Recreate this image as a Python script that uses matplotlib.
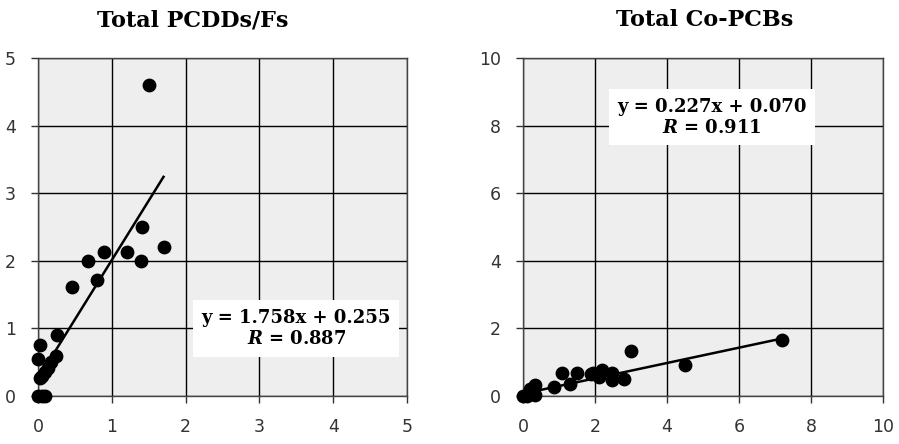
import numpy as np
import matplotlib.pyplot as plt

# Total PCDDs/Fs
pcdd_x = [1.50, 1.41, 1.70, 1.40, 1.20, 0.89, 0.68, 0.80, 0.46, 0.26,
          0.03, 0.00, 0.24, 0.18, 0.14, 0.09, 0.05, 0.02, 0.00, 0.05, 0.10]
pcdd_y = [4.60, 2.50, 2.21, 2.00, 2.13, 2.13, 2.00, 1.72, 1.61, 0.91,
          0.76, 0.55, 0.60, 0.51, 0.42, 0.35, 0.30, 0.27, 0.00, 0.00, 0.00]
pcdd_fit = (1.758, 0.255)
pcdd_label = "y = 1.758x + 0.255\n$\\bfit{R}$ = 0.887"

# Total Co-PCBs
pcb_x = [3.00, 4.50, 7.20, 2.81, 2.48, 2.48, 2.18, 2.11, 1.93, 1.88,
         1.51, 1.30, 1.09, 0.87, 0.34, 0.20, 0.34, 0.10, 0.00]
pcb_y = [1.34, 0.92, 1.65, 0.49, 0.47, 0.69, 0.77, 0.55, 0.69, 0.66,
         0.67, 0.37, 0.67, 0.28, 0.33, 0.20, 0.03, 0.00, 0.00]
pcb_fit = (0.227, 0.070)
pcb_label = "y = 0.227x + 0.070\n$\\bfit{R}$ = 0.911"

plt.rcParams['mathtext.fontset'] = 'custom'
plt.rcParams['mathtext.bfit'] = 'DejaVu Serif:bold:italic'
plt.rcParams['mathtext.rm'] = 'DejaVu Serif:bold'

fig = plt.figure(figsize=(8.99, 4.44), dpi=100)
ax1 = fig.add_axes([0.0423, 0.108, 0.4105, 0.761])
ax2 = fig.add_axes([0.5818, 0.108, 0.4004, 0.761])

def draw(ax, x, y, fit, label, lim, step, title, title_x, box_xy):
    ax.set_facecolor('#eeeeee')
    ax.set_axisbelow(True)
    ax.grid(True, color='black', linewidth=1.0)
    ax.scatter(x, y, s=80, color='black', zorder=3, clip_on=False)
    xs = np.array([min(x), max(x)])
    ax.plot(xs, fit[0] * xs + fit[1], color='black', linewidth=1.8, zorder=4)
    ax.set_xlim(0, lim)
    ax.set_ylim(0, lim)
    ticks = np.arange(0, lim + step / 2, step)
    ax.set_xticks(ticks)
    ax.set_yticks(ticks)
    ax.set_xticklabels([f'{t:g}' for t in ticks])
    ax.set_yticklabels([f'{t:g}' for t in ticks])
    ax.tick_params(direction='out', length=5, width=1, pad=11,
                   labelsize=12.5, colors='#333333')
    for s in ax.spines.values():
        s.set_color('#444444')
        s.set_linewidth(1.0)
    ax.text(title_x, 1.08, title, transform=ax.transAxes, ha='center',
            va='bottom', family='DejaVu Serif', fontweight='bold',
            fontsize=16)
    ax.text(box_xy[0], box_xy[1], label, ha='center', va='center',
            family='DejaVu Serif', fontweight='bold', fontsize=13,
            linespacing=1.25, zorder=5,
            bbox=dict(facecolor='white', edgecolor='none', pad=6))

draw(ax1, pcdd_x, pcdd_y, pcdd_fit, pcdd_label, 5, 1,
     'Total PCDDs/Fs', 0.42, (3.5, 1.0))
draw(ax2, pcb_x, pcb_y, pcb_fit, pcb_label, 10, 2,
     'Total Co-PCBs', 0.505, (5.25, 8.25))

plt.savefig('out.png', dpi=100)
